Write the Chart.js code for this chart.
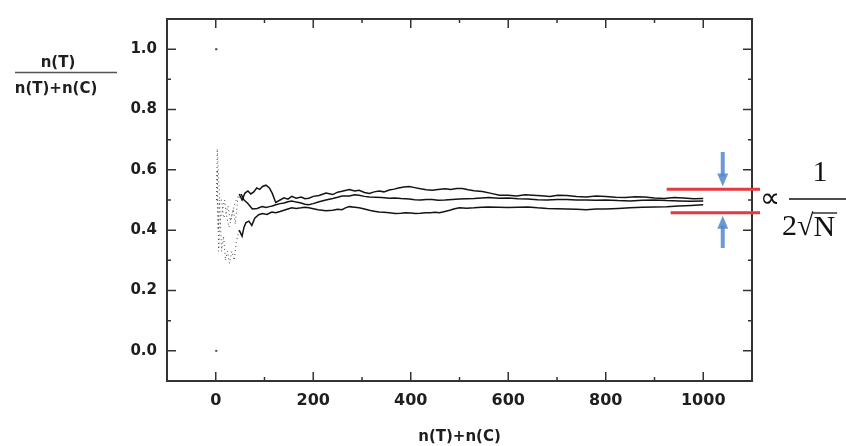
<!DOCTYPE html>
<html><head><meta charset="utf-8">
<script src="https://cdn.jsdelivr.net/npm/chart.js@4/dist/chart.umd.min.js"></script>
<style>html,body{margin:0;padding:0;background:#fff}#wrap{width:846px;height:446px}</style>
</head><body><div id="wrap"><canvas id="c" width="846" height="446"></canvas></div>
<script>
const xTicks=[0,200,400,600,800,1000];
const xMinor=[100,300,500,700,900];
const yTicks=[0,0.2,0.4,0.6,0.8,1.0];
const yMinor=[0.1,0.3,0.5,0.7,0.9];
const xTitle='n(T)+n(C)';
const yTitleTop='n(T)';
const yTitleBottom='n(T)+n(C)';
const bandUpper=0.536, bandLower=0.458;

const firstDraws=[[1,1.0],[1,0.0]];
const s1=[[2,0.5],[3,0.67],[5,0.6],[8,0.5],[12,0.5],[16,0.44],[20,0.45],[25,0.48],[30,0.43],[36,0.47],[42,0.5],[48,0.52],[54,0.5],[60,0.523],[66,0.53],[72,0.52],[78,0.527],[84,0.54],[90,0.535],[96,0.545],[103,0.549],[110,0.54],[116,0.522],[123,0.492],[132,0.5],[140,0.507],[148,0.503],[156,0.512],[165,0.506],[175,0.51],[183,0.504],[191,0.506],[200,0.512],[212,0.515],[226,0.523],[240,0.518],[250,0.526],[259,0.529],[274,0.535],[285,0.53],[294,0.532],[305,0.525],[315,0.522],[325,0.527],[335,0.53],[345,0.527],[356,0.533],[366,0.536],[375,0.54],[386,0.543],[397,0.545],[408,0.541],[420,0.537],[432,0.534],[444,0.532],[456,0.535],[470,0.537],[482,0.535],[494,0.538],[506,0.538],[518,0.534],[530,0.531],[547,0.528],[565,0.522],[582,0.516],[600,0.516],[617,0.513],[635,0.517],[650,0.516],[668,0.514],[685,0.512],[702,0.516],[720,0.515],[740,0.512],[760,0.51],[780,0.513],[800,0.512],[820,0.509],[840,0.508],[860,0.511],[880,0.51],[900,0.507],[920,0.505],[940,0.508],[960,0.507],[980,0.504],[1000,0.505]];
const s2=[[2,0.5],[4,0.5],[6,0.33],[9,0.44],[13,0.46],[18,0.5],[22,0.45],[27,0.41],[32,0.44],[36,0.47],[40,0.42],[45,0.5],[52,0.52],[58,0.5],[65,0.49],[75,0.47],[85,0.472],[95,0.478],[103,0.475],[110,0.478],[116,0.48],[123,0.484],[132,0.488],[140,0.49],[148,0.494],[156,0.497],[165,0.493],[175,0.49],[183,0.486],[191,0.484],[200,0.488],[212,0.494],[226,0.5],[240,0.505],[250,0.509],[259,0.513],[274,0.513],[285,0.517],[294,0.516],[305,0.512],[315,0.51],[328,0.509],[340,0.508],[356,0.506],[368,0.507],[380,0.505],[397,0.503],[408,0.501],[420,0.5],[432,0.502],[444,0.502],[456,0.499],[470,0.5],[485,0.502],[500,0.503],[515,0.504],[530,0.505],[545,0.507],[560,0.508],[580,0.506],[600,0.507],[620,0.504],[640,0.503],[660,0.501],[680,0.5],[700,0.502],[720,0.502],[740,0.5],[760,0.5],[780,0.499],[800,0.5],[825,0.498],[850,0.497],[875,0.499],[900,0.5],[925,0.498],[950,0.497],[975,0.496],[1000,0.497]];
const s3=[[2,0.5],[3,0.6],[5,0.4],[8,0.5],[12,0.33],[16,0.38],[20,0.3],[24,0.33],[28,0.29],[33,0.33],[38,0.3],[42,0.36],[48,0.4],[54,0.38],[58,0.41],[62,0.425],[68,0.43],[74,0.416],[80,0.44],[88,0.451],[96,0.455],[105,0.452],[115,0.46],[123,0.458],[132,0.462],[140,0.466],[148,0.47],[156,0.474],[165,0.472],[175,0.474],[183,0.476],[191,0.474],[200,0.471],[210,0.468],[218,0.466],[226,0.464],[240,0.466],[250,0.469],[259,0.468],[266,0.474],[274,0.478],[285,0.476],[294,0.474],[305,0.47],[315,0.466],[325,0.463],[335,0.46],[345,0.459],[356,0.458],[368,0.455],[380,0.456],[390,0.458],[400,0.457],[410,0.455],[420,0.456],[430,0.458],[440,0.458],[450,0.459],[459,0.458],[470,0.462],[480,0.466],[490,0.471],[500,0.474],[515,0.473],[530,0.474],[545,0.476],[560,0.477],[580,0.476],[600,0.475],[620,0.476],[640,0.477],[660,0.474],[680,0.472],[700,0.471],[720,0.47],[740,0.469],[760,0.468],[780,0.47],[800,0.47],[825,0.472],[850,0.474],[875,0.476],[900,0.477],[925,0.478],[950,0.48],[975,0.482],[1000,0.484]];

const toPts=a=>a.map(p=>({x:p[0],y:p[1]}));
const early=c=>c.p1.parsed.x<=52;
const seg={borderDash:c=>early(c)?[1,3]:undefined,borderWidth:c=>early(c)?1:1.5,borderColor:c=>early(c)?'#444':'#141414'};
const mkSet=a=>({data:toPts(a),borderColor:'#141414',borderWidth:1.5,pointRadius:0,tension:0,fill:false,segment:seg});

const deco={
  id:'deco',
  afterDraw(chart){
    const {ctx,chartArea:a,scales:{x,y}}=chart;
    ctx.save();
    ctx.strokeStyle='#333';ctx.lineWidth=2;
    ctx.strokeRect(a.left,a.top,a.right-a.left,a.bottom-a.top);
    ctx.lineWidth=1.5;ctx.beginPath();
    const tx=(v,len)=>{const p=x.getPixelForValue(v);ctx.moveTo(p,a.bottom);ctx.lineTo(p,a.bottom-len);ctx.moveTo(p,a.top);ctx.lineTo(p,a.top+len);};
    const ty=(v,len)=>{const p=y.getPixelForValue(v);ctx.moveTo(a.left,p);ctx.lineTo(a.left+len,p);ctx.moveTo(a.right,p);ctx.lineTo(a.right-len,p);};
    xTicks.forEach(v=>tx(v,9));xMinor.forEach(v=>tx(v,4));
    yTicks.forEach(v=>ty(v,9));yMinor.forEach(v=>ty(v,4));
    ctx.stroke();
    ctx.fillStyle='#1e1e1e';ctx.font='bold 15px "DejaVu Sans"';ctx.textAlign='center';ctx.textBaseline='middle';
    ctx.fillText(yTitleTop,58,63);
    ctx.fillText(yTitleBottom,56,89);
    ctx.strokeStyle='#555';ctx.lineWidth=1.5;ctx.beginPath();ctx.moveTo(15,72.5);ctx.lineTo(117,72.5);ctx.stroke();
    ctx.strokeStyle='#e63a40';ctx.lineWidth=3;ctx.beginPath();
    const uy=y.getPixelForValue(bandUpper), ly=y.getPixelForValue(bandLower);
    ctx.moveTo(x.getPixelForValue(925),uy);ctx.lineTo(a.right+8,uy);
    ctx.moveTo(x.getPixelForValue(933),ly);ctx.lineTo(a.right+8,ly);
    ctx.stroke();
    const ax=x.getPixelForValue(1040);
    ctx.fillStyle='rgba(80,135,205,0.85)';ctx.strokeStyle='rgba(80,135,205,0.85)';ctx.lineWidth=4;
    const arrow=(from,tip)=>{
      const fy=y.getPixelForValue(from), tyy=y.getPixelForValue(tip), d=Math.sign(tyy-fy);
      ctx.beginPath();ctx.moveTo(ax,fy);ctx.lineTo(ax,tyy-d*10);ctx.stroke();
      ctx.beginPath();ctx.moveTo(ax-5.5,tyy-d*13);ctx.lineTo(ax+5.5,tyy-d*13);ctx.lineTo(ax,tyy);ctx.closePath();ctx.fill();
    };
    arrow(0.659,0.545);arrow(0.341,0.448);
    ctx.fillStyle='#111';ctx.textBaseline='middle';
    ctx.font='28px "Liberation Serif"';ctx.textAlign='left';
    ctx.fillText('\u221D',a.right+8,200);
    ctx.font='30px "Liberation Serif"';ctx.textAlign='center';
    ctx.fillText('1',820,173);
    ctx.strokeStyle='#111';ctx.lineWidth=1.5;ctx.beginPath();ctx.moveTo(789,199);ctx.lineTo(850,199);ctx.stroke();
    ctx.textAlign='left';
    let px=782;
    ctx.fillText('2',px,227);px+=ctx.measureText('2').width;
    ctx.fillText('\u221A',px,227);px+=ctx.measureText('\u221A').width;
    ctx.fillText('N',px,228);
    const nw=ctx.measureText('N').width;
    ctx.lineWidth=1.3;ctx.beginPath();ctx.moveTo(px-1,213);ctx.lineTo(px+nw+2,213);ctx.stroke();
    ctx.restore();
  }
};

new Chart(document.getElementById('c'),{
  type:'line',
  data:{datasets:[mkSet(s1),mkSet(s2),mkSet(s3),
    {data:toPts(firstDraws),showLine:false,pointRadius:1.2,pointBorderWidth:0,pointBackgroundColor:'#555'}]},
  options:{
    responsive:false,animation:false,devicePixelRatio:1,
    layout:{padding:{left:0,right:94,top:13,bottom:0}},
    plugins:{legend:{display:false},tooltip:{enabled:false}},
    scales:{
      x:{type:'linear',min:-100,max:1100,
        afterBuildTicks:s=>{s.ticks=xTicks.map(v=>({value:v}));},
        afterFit:s=>{s.height=65;},
        grid:{display:false,drawTicks:false},border:{display:false},
        ticks:{padding:10,color:'#1e1e1e',font:{family:'DejaVu Sans',weight:'bold',size:16},callback:v=>String(v),maxRotation:0},
        title:{display:true,text:xTitle,color:'#1e1e1e',font:{family:'DejaVu Sans',weight:'bold',size:15},padding:{top:0,bottom:0}}
      },
      y:{type:'linear',min:-0.1,max:1.1,
        afterBuildTicks:s=>{s.ticks=yTicks.map(v=>({value:v}));},
        afterFit:s=>{s.width=167;},
        grid:{display:false,drawTicks:false},border:{display:false},
        ticks:{padding:10,color:'#1e1e1e',font:{family:'DejaVu Sans',weight:'bold',size:15},callback:v=>Number(v).toFixed(1)}
      }
    }
  },
  plugins:[deco]
});
</script></body></html>
